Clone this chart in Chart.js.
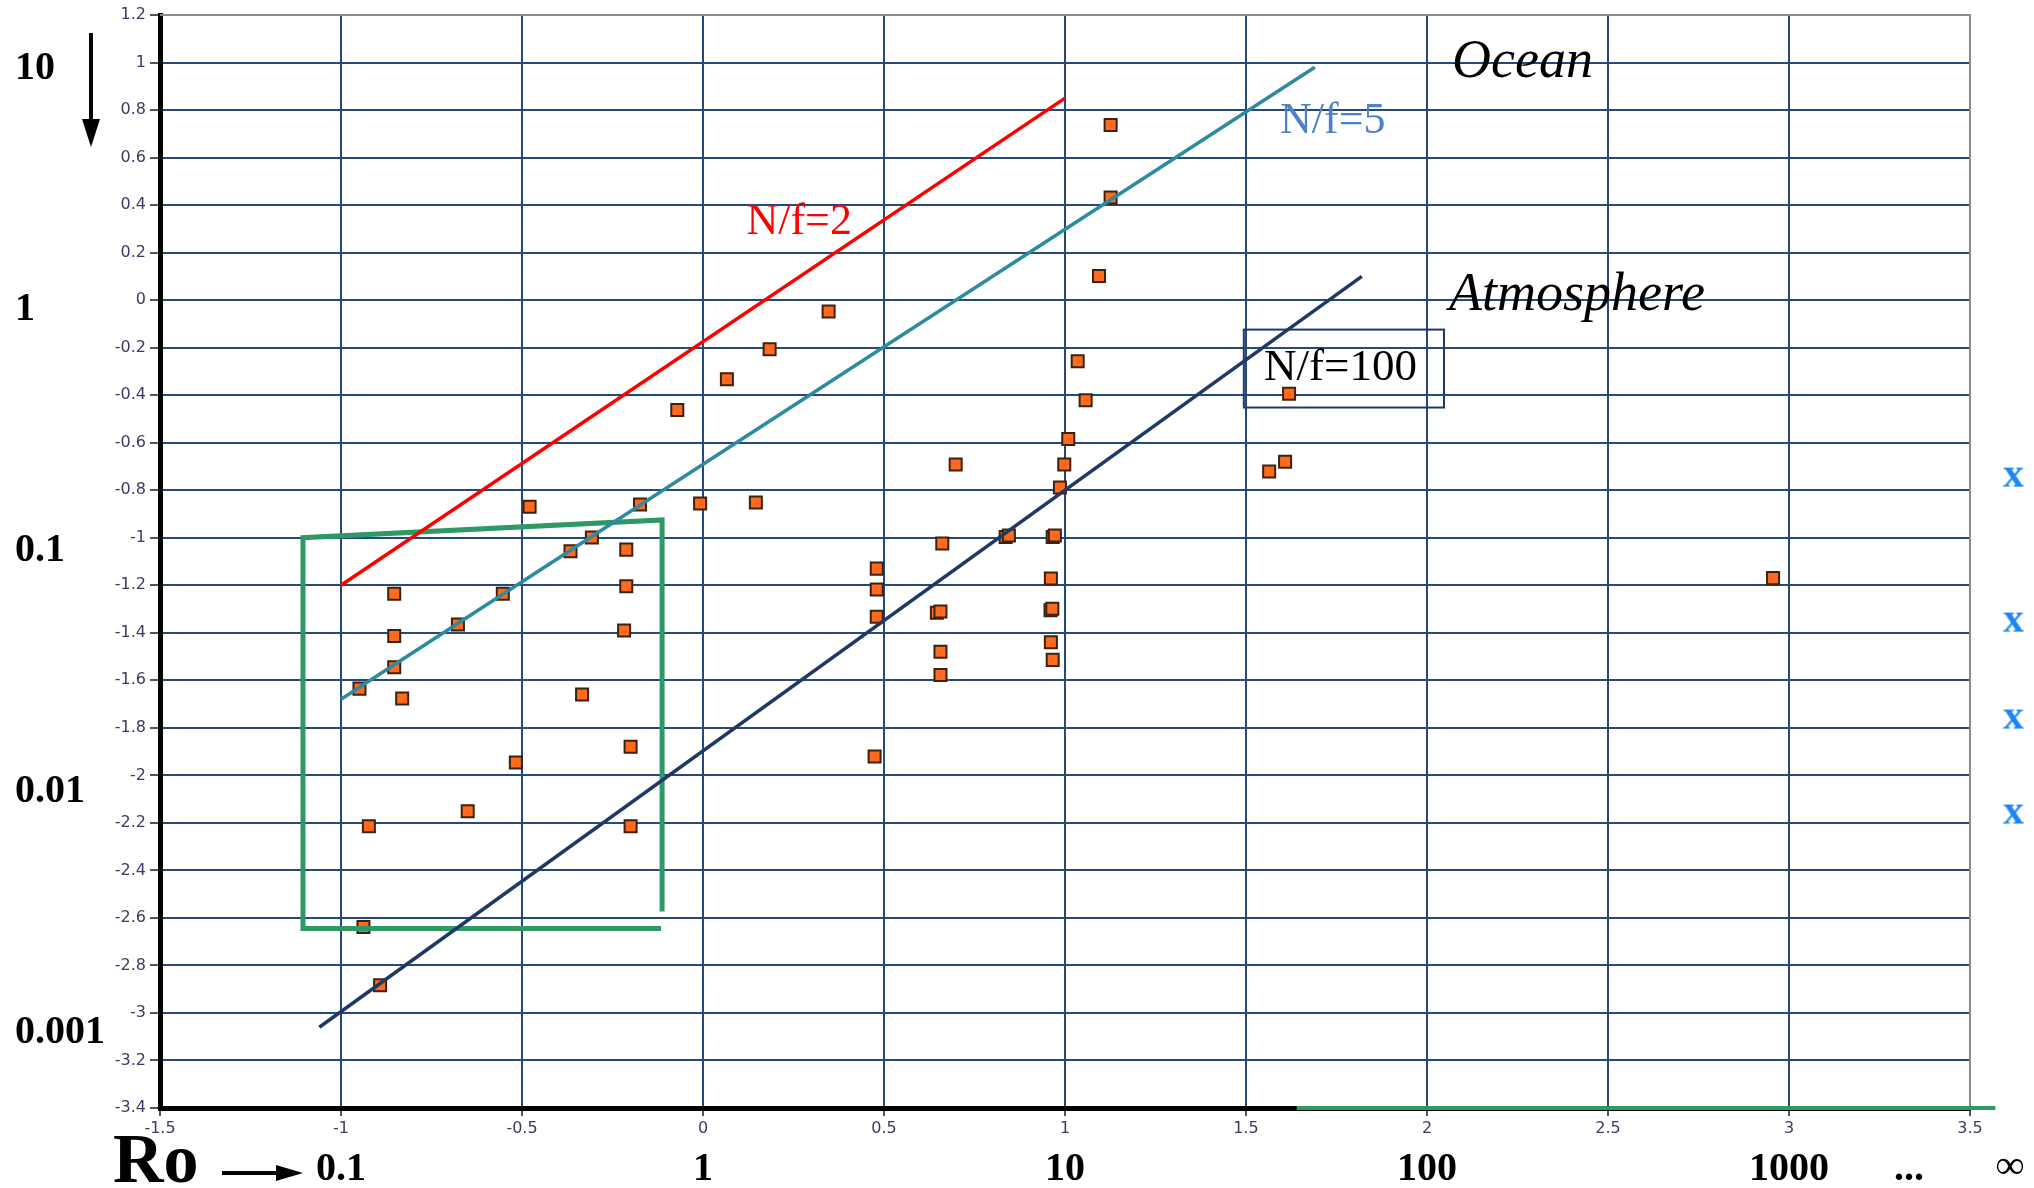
<!DOCTYPE html>
<html>
<head>
<meta charset="utf-8">
<script src="https://cdn.jsdelivr.net/npm/chart.js@4.4.1/dist/chart.umd.min.js"></script>
<style>
  html, body { margin: 0; padding: 0; background: #fff; }
</style>
</head>
<body>
<canvas id="regimeChart" width="2034" height="1188"></canvas>
<script>
// log10(Ro) and log10 of the vertical quantity for each observation
const obsX = [1.126, 1.126, 1.094, 0.347, 0.184, 0.066, -0.071, 1.035, 1.057, 1.009, 0.998, 0.698, 0.986,
  1.619, 1.564, 1.608, -0.479, -0.174, -0.008, 0.146, -0.307, -0.366, -0.212, -0.853, -0.553, -0.212,
  -0.853, -0.677, -0.218, -0.853, -0.949, -0.831, -0.334, -0.200, -0.517, -0.650, -0.923, -0.200,
  -0.938, -0.892, 0.480, 0.480, 0.480, 0.474, 0.661, 0.646, 0.656, 0.656, 0.656, 0.836, 0.845,
  0.966, 0.972, 0.961, 0.960, 0.965, 0.961, 0.966, 2.956];
const obsY = [0.737, 0.432, 0.102, -0.048, -0.207, -0.333, -0.462, -0.257, -0.421, -0.584, -0.692, -0.692, -0.789,
  -0.394, -0.721, -0.680, -0.870, -0.860, -0.856, -0.852, -0.999, -1.057, -1.050, -1.236, -1.236, -1.204,
  -1.414, -1.365, -1.390, -1.545, -1.635, -1.677, -1.660, -1.880, -1.946, -2.151, -2.214, -2.214,
  -2.638, -2.883, -1.130, -1.218, -1.333, -1.921, -1.024, -1.316, -1.310, -1.480, -1.578, -0.997, -0.991,
  -0.997, -0.991, -1.172, -1.305, -1.299, -1.440, -1.514, -1.170];

// cases with Ro = infinity, drawn just past the right edge
const infRoX = [3.62, 3.62, 3.62, 3.62];
const infRoY = [-0.747, -1.357, -1.765, -2.165];

// N/f reference lines
const nf2X = [-1.0, 1.0];
const nf2Y = [-1.2, 0.85];
const nf5X = [-1.0, 1.69];
const nf5Y = [-1.68, 0.98];
const nf100X = [-1.06, 1.82];
const nf100Y = [-3.06, 0.10];

// hand-drawn outline around the low-Ro cluster
const boxX = [-0.113, -0.113, -1.105, -1.105, -0.116];
const boxY = [-2.573, -0.925, -1.0, -2.645, -2.645];
const baseX = [1.64, 3.57];
const baseY = [-3.4, -3.4];

// decade labels for both axes
const decadeY = [1, 0, -1, -2, -3];
const decadeYText = ['10', '1', '0.1', '0.01', '0.001'];
const roX = [-1, 0, 1, 2, 3];
const roText = ['0.1', '1', '10', '100', '1000'];

const pts = (xs, ys) => xs.map((x, i) => ({ x: x, y: ys[i] }));

// bold serif "x" used as the marker for the infinite-Ro cases
const xMark = document.createElement('canvas');
xMark.width = 34; xMark.height = 34;
(function () {
  const c = xMark.getContext('2d');
  c.fillStyle = '#1a86f5';
  c.font = 'bold 42px "Liberation Serif"';
  c.textAlign = 'center';
  c.textBaseline = 'alphabetic';
  c.fillText('x', 17, 26);
})();

const lineSet = (label, xs, ys, color, width, extra) => Object.assign({
  label: label,
  data: pts(xs, ys),
  showLine: true,
  borderColor: color,
  borderWidth: width,
  pointRadius: 0,
  fill: false,
  borderCapStyle: 'butt',
  borderJoinStyle: 'miter'
}, extra || {});

function arrow(ctx, x1, y1, x2, y2, head, half) {
  const ang = Math.atan2(y2 - y1, x2 - x1);
  const bx = x2 - head * Math.cos(ang), by = y2 - head * Math.sin(ang);
  ctx.beginPath();
  ctx.moveTo(x1, y1);
  ctx.lineTo(bx, by);
  ctx.stroke();
  ctx.beginPath();
  ctx.moveTo(x2, y2);
  ctx.lineTo(bx + half * Math.sin(ang), by - half * Math.cos(ang));
  ctx.lineTo(bx - half * Math.sin(ang), by + half * Math.cos(ang));
  ctx.closePath();
  ctx.fill();
}

const frameAndLabels = {
  id: 'frameAndLabels',
  beforeDatasetsDraw(chart) {
    const { ctx, chartArea: a } = chart;
    ctx.save();
    ctx.strokeStyle = '#8a8a8a';
    ctx.lineWidth = 2;
    ctx.beginPath();
    ctx.moveTo(a.left, a.top);
    ctx.lineTo(a.right, a.top);
    ctx.lineTo(a.right, a.bottom);
    ctx.stroke();
    ctx.restore();
  },
  afterDraw(chart) {
    const { ctx } = chart;
    const xs = chart.scales.x, ys = chart.scales.y;
    ctx.save();

    // Ro = infinity markers sit outside the plotting range
    infRoY.forEach((v, i) => {
      const px = xs.getPixelForValue(infRoX[i]), py = ys.getPixelForValue(v);
      ctx.drawImage(xMark, px - xMark.width / 2, py - xMark.height / 2);
    });

    // region and N/f labels
    ctx.textAlign = 'left';
    ctx.textBaseline = 'alphabetic';
    ctx.fillStyle = '#ff0000';
    ctx.font = '44px "Liberation Serif"';
    ctx.fillText('N/f=2', xs.getPixelForValue(0.12), ys.getPixelForValue(0.28));
    ctx.fillStyle = '#4f81c9';
    ctx.fillText('N/f=5', xs.getPixelForValue(1.594), ys.getPixelForValue(0.705));
    ctx.fillStyle = '#000';
    ctx.font = 'italic 54px "Liberation Serif"';
    ctx.fillText('Ocean', xs.getPixelForValue(2.069), ys.getPixelForValue(0.937));
    ctx.fillText('Atmosphere', xs.getPixelForValue(2.061), ys.getPixelForValue(-0.04));
    ctx.font = '45px "Liberation Serif"';
    ctx.fillText('N/f=100', xs.getPixelForValue(1.55), ys.getPixelForValue(-0.338));
    const bx1 = xs.getPixelForValue(1.494), bx2 = xs.getPixelForValue(2.047);
    const by1 = ys.getPixelForValue(-0.124), by2 = ys.getPixelForValue(-0.452);
    ctx.strokeStyle = '#1f3864';
    ctx.lineWidth = 2;
    ctx.strokeRect(bx1, by1, bx2 - bx1, by2 - by1);

    // decade values on the left (hand placed, slightly wider spacing than the axis)
    ctx.fillStyle = '#000';
    ctx.font = 'bold 40px "Liberation Serif"';
    decadeY.forEach((v, i) => {
      ctx.fillText(decadeYText[i], 15, ys.getPixelForValue(v) + 20 - 3.2 * v);
    });
    ctx.lineWidth = 4;
    ctx.strokeStyle = '#000';
    arrow(ctx, 91, 33, 91, 147, 28, 9);

    // Ro decades along the bottom
    ctx.textAlign = 'center';
    roX.forEach((v, i) => {
      ctx.fillText(roText[i], xs.getPixelForValue(v), 1180);
    });
    ctx.fillText('...', 1909, 1180);
    ctx.fillText('\u221e', 2010, 1178);
    ctx.textAlign = 'left';
    ctx.font = 'bold 70px "Liberation Serif"';
    ctx.fillText('Ro', 113, 1182);
    arrow(ctx, 222, 1173, 303, 1173, 27, 8);
    ctx.restore();
  }
};

new Chart(document.getElementById('regimeChart').getContext('2d'), {
  type: 'scatter',
  data: {
    datasets: [
      lineSet('N/f=2', nf2X, nf2Y, '#ff0000', 3.5),
      lineSet('N/f=5', nf5X, nf5Y, '#2e8aa0', 3.5),
      lineSet('N/f=100', nf100X, nf100Y, '#1f3864', 3.5),
      lineSet('outline', boxX, boxY, '#2f9966', 5),
      lineSet('base', baseX, baseY, '#2f9966', 4, { clip: false }),
      {
        label: 'observations',
        data: pts(obsX, obsY),
        pointStyle: 'rect',
        pointRadius: 8.5,
        backgroundColor: '#ff6a1c',
        borderColor: '#3a2312',
        borderWidth: 2
      }
    ]
  },
  options: {
    responsive: false,
    animation: false,
    devicePixelRatio: 1,
    layout: { padding: { top: 15, right: 64, left: 0, bottom: 0 } },
    plugins: {
      legend: { display: false },
      tooltip: { enabled: false }
    },
    scales: {
      x: {
        type: 'linear',
        min: -1.5,
        max: 3.5,
        afterFit: s => { s.height = 80; },
        border: { display: true, color: '#000', width: 5 },
        grid: { color: '#24497a', lineWidth: 2, tickLength: 8, tickColor: '#555', tickWidth: 2 },
        ticks: {
          stepSize: 0.5,
          autoSkip: false,
          maxRotation: 0,
          padding: 3,
          color: '#3d3b63',
          font: { family: 'DejaVu Sans', size: 16 },
          callback: v => String(Math.round(v * 10) / 10)
        }
      },
      y: {
        type: 'linear',
        min: -3.4,
        max: 1.2,
        afterFit: s => { s.width = 160; },
        border: { display: true, color: '#000', width: 5 },
        grid: { color: '#24497a', lineWidth: 2, tickLength: 10, tickColor: '#555', tickWidth: 2 },
        ticks: {
          stepSize: 0.2,
          autoSkip: false,
          padding: 4,
          color: '#3d3b63',
          font: { family: 'DejaVu Sans', size: 16 },
          callback: v => String(Math.round(v * 10) / 10)
        }
      }
    }
  },
  plugins: [frameAndLabels]
});
</script>
</body>
</html>
